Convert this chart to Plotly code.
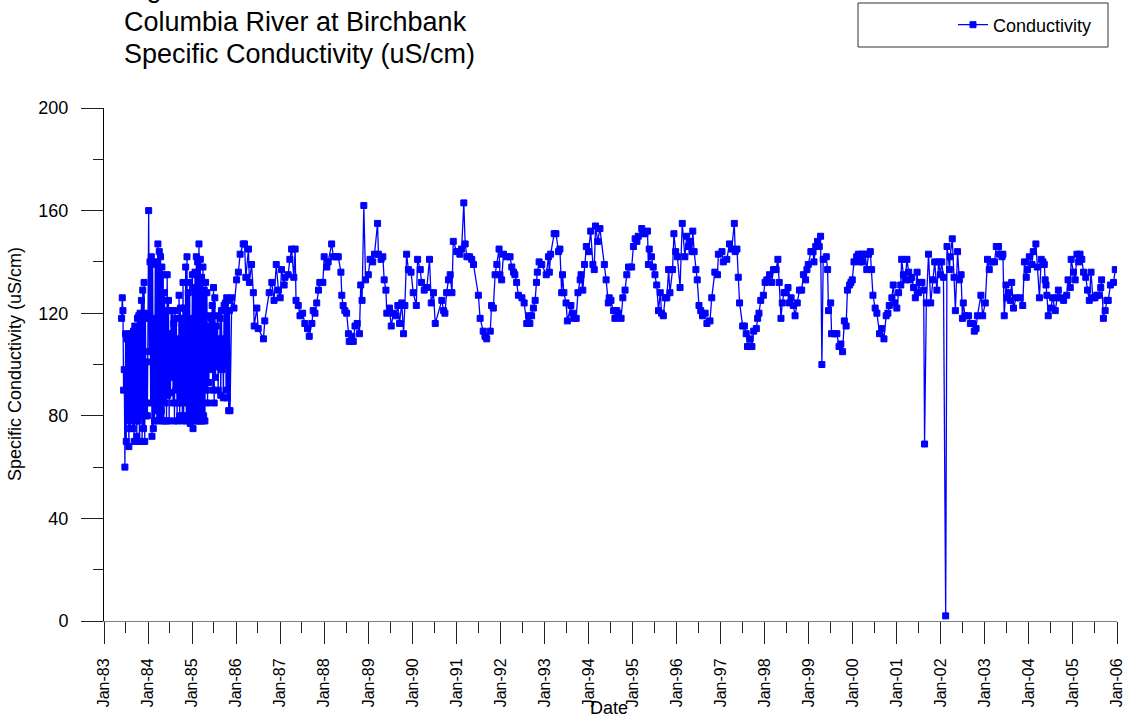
import pandas as pd
import plotly.graph_objects as go

# Columbia River at Birchbank - specific conductivity (uS/cm) by sample date (decimal year)

# 1983-1985: frequent sampling
yr_1983_85 = [1983.400, 1983.415, 1983.430, 1983.445, 1983.460, 1983.475, 1983.490, 1983.505, 1983.520, 1983.535,
              1983.550, 1983.565, 1983.580, 1983.595, 1983.610, 1983.625, 1983.640, 1983.655, 1983.670, 1983.685,
              1983.700, 1983.715, 1983.730, 1983.745, 1983.760, 1983.775, 1983.790, 1983.805, 1983.820, 1983.835,
              1983.850, 1983.865, 1983.880, 1983.895, 1983.910, 1983.925, 1983.940, 1983.955, 1983.970, 1983.985,
              1984.000, 1984.015, 1984.030, 1984.045, 1984.060, 1984.075, 1984.090, 1984.105, 1984.120, 1984.135,
              1984.150, 1984.165, 1984.180, 1984.195, 1984.210, 1984.225, 1984.240, 1984.255, 1984.270, 1984.285,
              1984.300, 1984.315, 1984.330, 1984.345, 1984.360, 1984.375, 1984.390, 1984.405, 1984.420, 1984.435,
              1984.450, 1984.465, 1984.480, 1984.495, 1984.510, 1984.525, 1984.540, 1984.555, 1984.570, 1984.585,
              1984.600, 1984.615, 1984.630, 1984.645, 1984.660, 1984.675, 1984.690, 1984.705, 1984.720, 1984.735,
              1984.750, 1984.765, 1984.780, 1984.795, 1984.810, 1984.825, 1984.840, 1984.855, 1984.870, 1984.885,
              1984.900, 1984.915, 1984.930, 1984.945, 1984.960, 1984.975, 1984.990, 1985.005, 1985.020, 1985.035,
              1985.050, 1985.065, 1985.080, 1985.095, 1985.110, 1985.125, 1985.140, 1985.155, 1985.170, 1985.185,
              1985.200, 1985.215, 1985.230, 1985.245, 1985.260, 1985.275, 1985.290, 1985.305, 1985.320, 1985.335,
              1985.350, 1985.365, 1985.380, 1985.395, 1985.410, 1985.425, 1985.440, 1985.455, 1985.470, 1985.485,
              1985.500, 1985.515, 1985.530, 1985.545, 1985.560, 1985.575, 1985.590, 1985.605, 1985.620, 1985.635,
              1985.650, 1985.665, 1985.680, 1985.695, 1985.710, 1985.725, 1985.740, 1985.755, 1985.770, 1985.785,
              1985.800, 1985.815, 1985.830, 1985.845, 1985.860, 1985.900, 1985.950]
sc_1983_85 = [118, 126, 121, 90, 98, 60, 112, 70, 110, 78,
              111, 68, 110, 75, 112, 78, 108, 75, 113, 70,
              115, 78, 112, 72, 118, 78, 119, 70, 120, 80,
              125, 70, 129, 75, 132, 70, 120, 80, 101, 80,
              118, 160, 105, 140, 85, 142, 72, 140, 75, 118,
              78, 140, 82, 139, 78, 147, 82, 144, 80, 142,
              82, 138, 78, 135, 78, 128, 85, 121, 78, 135,
              88, 125, 78, 112, 89, 121, 95, 121, 85, 116,
              78, 121, 90, 118, 78, 110, 85, 127, 80, 122,
              85, 118, 78, 132, 80, 122, 85, 138, 78, 142,
              80, 128, 78, 132, 77, 118, 80, 135, 75, 130,
              78, 136, 80, 142, 78, 140, 78, 147, 80, 141,
              78, 134, 78, 138, 80, 129, 78, 132, 90, 128,
              85, 115, 93, 119, 99, 118, 98, 123, 90, 130,
              85, 126, 95, 115, 100, 119, 90, 110, 99, 118,
              88, 121, 98, 110, 87, 123, 100, 124, 90, 126,
              87, 125, 82, 121, 82, 126, 122]

yr_1986_91 = [1986.01, 1986.05, 1986.09, 1986.16, 1986.19, 1986.22, 1986.28, 1986.30, 1986.35, 1986.39,
              1986.41, 1986.47, 1986.50, 1986.62, 1986.65, 1986.75, 1986.81, 1986.86, 1986.91, 1986.96,
              1987.00, 1987.03, 1987.09, 1987.11, 1987.18, 1987.22, 1987.26, 1987.31, 1987.34, 1987.36,
              1987.41, 1987.45, 1987.51, 1987.56, 1987.62, 1987.66, 1987.72, 1987.75, 1987.79, 1987.83,
              1987.87, 1987.90, 1987.97, 1988.00, 1988.06, 1988.09, 1988.17, 1988.21, 1988.28, 1988.32,
              1988.38, 1988.40, 1988.43, 1988.47, 1988.51, 1988.55, 1988.57, 1988.63, 1988.66, 1988.70,
              1988.75, 1988.80, 1988.83, 1988.86, 1988.90, 1988.94, 1989.00, 1989.04, 1989.10, 1989.14,
              1989.21, 1989.23, 1989.29, 1989.33, 1989.36, 1989.40, 1989.42, 1989.48, 1989.52, 1989.57,
              1989.63, 1989.67, 1989.71, 1989.76, 1989.80, 1989.83, 1989.87, 1989.91, 1989.97, 1990.02,
              1990.09, 1990.12, 1990.18, 1990.21, 1990.27, 1990.33, 1990.39, 1990.43, 1990.48, 1990.52,
              1990.67, 1990.71, 1990.74, 1990.78, 1990.82, 1990.86, 1990.90, 1990.93, 1991.01, 1991.08,
              1991.12, 1991.17, 1991.20, 1991.24, 1991.30, 1991.35, 1991.39, 1991.50, 1991.54, 1991.61,
              1991.65, 1991.69, 1991.77, 1991.80, 1991.84, 1991.88, 1991.92, 1991.97]
sc_1986_91 = [133, 136, 143, 147, 147, 134, 145, 132, 139, 128,
              115, 122, 114, 110, 117, 128, 132, 125, 139, 129,
              126, 137, 131, 134, 135, 141, 145, 134, 145, 125,
              123, 119, 120, 116, 114, 111, 116, 121, 120, 124,
              129, 132, 132, 142, 138, 140, 147, 142, 142, 142,
              136, 127, 123, 121, 120, 112, 109, 111, 109, 115,
              116, 112, 131, 125, 162, 133, 135, 141, 140, 143,
              155, 143, 141, 142, 133, 129, 120, 122, 115, 120,
              119, 123, 116, 124, 112, 123, 143, 137, 136, 128,
              123, 141, 137, 132, 129, 130, 141, 124, 128, 116,
              125, 121, 120, 128, 133, 135, 128, 148, 144, 143,
              145, 163, 147, 142, 142, 141, 139, 127, 118, 113,
              111, 110, 113, 123, 122, 135, 139, 145]

yr_1992_97 = [1991.99, 1992.03, 1992.07, 1992.14, 1992.22, 1992.26, 1992.30, 1992.33, 1992.37, 1992.41,
              1992.49, 1992.54, 1992.60, 1992.64, 1992.67, 1992.71, 1992.75, 1992.79, 1992.82, 1992.84,
              1992.88, 1992.94, 1993.04, 1993.09, 1993.11, 1993.14, 1993.22, 1993.26, 1993.32, 1993.35,
              1993.39, 1993.41, 1993.44, 1993.49, 1993.52, 1993.60, 1993.64, 1993.67, 1993.72, 1993.76,
              1993.81, 1993.83, 1993.87, 1993.91, 1993.95, 1994.00, 1994.05, 1994.10, 1994.13, 1994.16,
              1994.21, 1994.26, 1994.36, 1994.40, 1994.45, 1994.47, 1994.51, 1994.57, 1994.60, 1994.64,
              1994.68, 1994.74, 1994.78, 1994.83, 1994.87, 1994.91, 1994.98, 1995.02, 1995.06, 1995.10,
              1995.13, 1995.21, 1995.25, 1995.28, 1995.34, 1995.36, 1995.38, 1995.43, 1995.47, 1995.51,
              1995.55, 1995.59, 1995.63, 1995.66, 1995.70, 1995.74, 1995.78, 1995.82, 1995.85, 1995.91,
              1995.94, 1995.98, 1996.02, 1996.08, 1996.13, 1996.19, 1996.23, 1996.27, 1996.31, 1996.35,
              1996.37, 1996.40, 1996.44, 1996.47, 1996.51, 1996.55, 1996.59, 1996.65, 1996.69, 1996.76,
              1996.80, 1996.87, 1996.93, 1996.95, 1997.03, 1997.06, 1997.14, 1997.20, 1997.25, 1997.31,
              1997.33, 1997.37, 1997.40, 1997.43]
sc_1992_97 = [135, 133, 143, 142, 142, 138, 136, 135, 132, 127,
              126, 124, 116, 119, 116, 119, 122, 125, 132, 136,
              140, 139, 135, 142, 136, 143, 151, 151, 144, 145,
              128, 135, 128, 124, 117, 123, 120, 118, 118, 128,
              133, 135, 129, 139, 146, 144, 152, 139, 137, 154,
              148, 153, 139, 133, 124, 126, 125, 121, 118, 121,
              120, 118, 126, 129, 135, 138, 138, 146, 149, 148,
              150, 153, 151, 151, 152, 139, 145, 142, 138, 135,
              131, 121, 128, 120, 119, 126, 126, 137, 128, 137,
              151, 144, 142, 130, 155, 142, 150, 146, 148, 144,
              152, 144, 137, 133, 123, 121, 119, 120, 116, 117,
              126, 136, 135, 143, 144, 140, 141, 147, 145, 155,
              144, 145, 134, 124]

yr_1998_05 = [1997.50, 1997.54, 1997.58, 1997.61, 1997.67, 1997.71, 1997.75, 1997.81, 1997.84, 1997.87,
              1997.91, 1997.97, 1998.01, 1998.05, 1998.11, 1998.16, 1998.20, 1998.26, 1998.30, 1998.33,
              1998.37, 1998.40, 1998.44, 1998.49, 1998.53, 1998.56, 1998.60, 1998.65, 1998.69, 1998.74,
              1998.79, 1998.84, 1998.88, 1998.93, 1998.96, 1998.99, 1999.05, 1999.10, 1999.12, 1999.16,
              1999.20, 1999.24, 1999.27, 1999.30, 1999.33, 1999.40, 1999.43, 1999.45, 1999.50, 1999.52,
              1999.59, 1999.64, 1999.69, 1999.73, 1999.77, 1999.81, 1999.85, 1999.88, 1999.93, 1999.96,
              1999.99, 2000.03, 2000.09, 2000.13, 2000.17, 2000.21, 2000.23, 2000.28, 2000.32, 2000.36,
              2000.40, 2000.43, 2000.46, 2000.51, 2000.55, 2000.61, 2000.66, 2000.71, 2000.76, 2000.80,
              2000.83, 2000.89, 2000.92, 2000.96, 2001.00, 2001.04, 2001.09, 2001.11, 2001.15, 2001.19,
              2001.23, 2001.27, 2001.30, 2001.34, 2001.38, 2001.42, 2001.46, 2001.49, 2001.53, 2001.57,
              2001.61, 2001.63, 2001.67, 2001.72, 2001.77, 2001.82, 2001.86, 2001.91, 2001.95, 2001.99,
              2002.02, 2002.06, 2002.11, 2002.14, 2002.20, 2002.21, 2002.26, 2002.30, 2002.33, 2002.38,
              2002.42, 2002.46, 2002.49, 2002.51, 2002.55, 2002.63, 2002.67, 2002.72, 2002.76, 2002.80,
              2002.83, 2002.91, 2002.95, 2003.01, 2003.06, 2003.10, 2003.16, 2003.22, 2003.26, 2003.31,
              2003.33, 2003.39, 2003.41, 2003.44, 2003.48, 2003.50, 2003.54, 2003.58, 2003.61, 2003.65,
              2003.71, 2003.80, 2003.86, 2003.90, 2003.94, 2003.97, 2004.01, 2004.07, 2004.10, 2004.16,
              2004.19, 2004.24, 2004.28, 2004.32, 2004.35, 2004.37, 2004.39, 2004.41, 2004.44, 2004.50,
              2004.54, 2004.60, 2004.64, 2004.67, 2004.73, 2004.79, 2004.86, 2004.89, 2004.94, 2004.96,
              2005.01, 2005.05, 2005.09, 2005.13, 2005.16, 2005.20, 2005.24, 2005.29, 2005.33, 2005.37,
              2005.41, 2005.45, 2005.50, 2005.54, 2005.58, 2005.63, 2005.65, 2005.69, 2005.73, 2005.77,
              2005.80, 2005.85, 2005.92, 2005.96]
sc_1998_05 = [115, 115, 112, 107, 110, 107, 113, 114, 118, 120,
              125, 127, 132, 133, 135, 132, 137, 137, 141, 132,
              118, 124, 128, 128, 130, 124, 126, 123, 119, 124,
              129, 129, 135, 133, 137, 139, 144, 144, 140, 146,
              148, 146, 150, 100, 141, 142, 137, 121, 124, 112,
              112, 112, 107, 108, 105, 117, 115, 129, 131, 132,
              133, 140, 142, 143, 140, 143, 140, 143, 137, 143,
              144, 137, 127, 122, 120, 112, 114, 110, 119, 120,
              123, 126, 131, 124, 122, 128, 131, 141, 135, 133,
              141, 136, 133, 134, 130, 126, 136, 128, 132, 132,
              129, 69, 124, 143, 124, 133, 140, 129, 140, 135,
              140, 134, 2, 146, 137, 142, 149, 134, 121, 144,
              133, 135, 118, 124, 119, 119, 116, 116, 113, 114,
              119, 127, 119, 124, 141, 137, 140, 140, 146, 146,
              143, 142, 143, 119, 131, 126, 128, 125, 132, 122,
              126, 126, 123, 140, 134, 137, 142, 139, 144, 147,
              138, 126, 141, 140, 139, 133, 131, 127, 119, 122,
              126, 121, 126, 129, 126, 125, 127, 133, 130, 141,
              136, 133, 143, 140, 143, 141, 136, 134, 129, 125,
              136, 126, 126, 127, 127, 130, 133, 118, 121, 125,
              125, 131, 132, 137]

tick_years = [1983, 1984, 1985, 1986, 1987, 1988, 1989, 1990, 1991, 1992, 1993, 1994,
              1995, 1996, 1997, 1998, 1999, 2000, 2001, 2002, 2003, 2004, 2005, 2006]
tick_labels = ["Jan-83", "Jan-84", "Jan-85", "Jan-86", "Jan-87", "Jan-88", "Jan-89", "Jan-90",
               "Jan-91", "Jan-92", "Jan-93", "Jan-94", "Jan-95", "Jan-96", "Jan-97", "Jan-98",
               "Jan-99", "Jan-00", "Jan-01", "Jan-02", "Jan-03", "Jan-04", "Jan-05", "Jan-06"]


def to_date(dec_year):
    y = int(dec_year)
    return pd.Timestamp(y, 1, 1) + pd.Timedelta(days=(dec_year - y) * 365.25)


years = yr_1983_85 + yr_1986_91 + yr_1992_97 + yr_1998_05
cond = sc_1983_85 + sc_1986_91 + sc_1992_97 + sc_1998_05
dates = [to_date(v) for v in years]

W, H = 1127, 721
L, R, T, B = 104, 10, 108, 100
PW, PH = W - L - R, H - T - B


def px(x):
    return (x - L) / PW


def py(y):
    return (H - B - y) / PH


FONT = "Liberation Sans, Arial, sans-serif"
BLUE = "#0000FF"

fig = go.Figure()
fig.add_trace(go.Scatter(
    x=dates, y=cond, mode="lines+markers", name="Conductivity",
    line=dict(color=BLUE, width=1.3),
    marker=dict(symbol="square", size=6, color=BLUE, line=dict(color=BLUE, width=1)),
))

fig.update_layout(
    width=W, height=H,
    margin=dict(l=L, r=R, t=T, b=B, autoexpand=False),
    paper_bgcolor="white", plot_bgcolor="white",
    font=dict(family=FONT, color="black", size=18),
    showlegend=True,
    legend=dict(
        x=px(1097), y=py(25), xanchor="right", yanchor="middle",
        bgcolor="rgba(0,0,0,0)", borderwidth=0,
        font=dict(size=18, family=FONT),
    ),
    xaxis=dict(
        type="date",
        range=[to_date(1983.0), to_date(2006.0)],
        tickmode="array",
        tickvals=[pd.Timestamp(y, 1, 1) for y in tick_years],
        ticktext=tick_labels,
        tickangle=-90,
        tickfont=dict(size=16),
        ticks="outside", ticklen=22, tickwidth=1, tickcolor="#222222",
        ticklabelstandoff=8,
        minor=dict(
            tickmode="array",
            tickvals=[pd.Timestamp(y, 7, 1) for y in tick_years[:-1]],
            ticks="outside", ticklen=11, tickwidth=1, tickcolor="#222222",
            showgrid=False,
        ),
        showline=True, linecolor="#808080", linewidth=1,
        showgrid=False, zeroline=False,
    ),
    yaxis=dict(
        range=[0, 200],
        tickmode="array", tickvals=[0, 40, 80, 120, 160, 200],
        tickfont=dict(size=18),
        ticks="outside", ticklen=22, tickwidth=1, tickcolor="#222222",
        ticklabelstandoff=9,
        minor=dict(tickmode="array", tickvals=[20, 60, 100, 140, 180],
                   ticks="outside", ticklen=10, tickwidth=1, tickcolor="#222222",
                   showgrid=False),
        showline=True, linecolor="black", linewidth=1,
        showgrid=False, zeroline=False,
    ),
)

# legend frame
fig.add_shape(type="rect", xref="paper", yref="paper",
              x0=px(858), x1=px(1108), y0=py(47), y1=py(3),
              line=dict(color="#333333", width=1), fillcolor="rgba(0,0,0,0)", layer="below")

# title block (first line runs off the top of the page)
title_lines = ["Figure 5", "Columbia River at Birchbank", "Specific Conductivity (uS/cm)"]
title_bottoms = [4.5, 39.5, 71.5]
for txt, yb in zip(title_lines, title_bottoms):
    fig.add_annotation(text=txt, xref="paper", yref="paper", x=px(122), y=py(yb),
                       xanchor="left", yanchor="bottom", showarrow=False,
                       font=dict(size=27, family=FONT, color="black"))

# axis titles
fig.add_annotation(text="Date", xref="paper", yref="paper", x=px(609), y=py(720),
                   xanchor="center", yanchor="bottom", showarrow=False,
                   font=dict(size=18, family=FONT, color="black"))
fig.add_annotation(text="Specific Conductivity (uS/cm)", xref="paper", yref="paper",
                   x=px(15), y=py(364), xanchor="center", yanchor="middle",
                   textangle=-90, showarrow=False,
                   font=dict(size=18, family=FONT, color="black"))

fig.write_html("out.html")
